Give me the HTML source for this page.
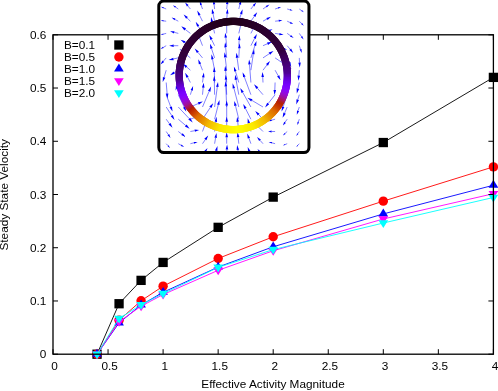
<!DOCTYPE html>
<html><head><meta charset="utf-8"><title>plot</title>
<style>html,body{margin:0;padding:0;background:#fff;width:498px;height:391px;overflow:hidden}</style></head>
<body>
<svg width="498" height="391" viewBox="0 0 498 391" style="display:block;position:absolute;left:0;top:0;will-change:transform">
<rect width="498" height="391" fill="#fff"/>
<polyline points="97.04,354.20 119.06,303.73 141.08,280.37 163.10,262.43 218.15,227.34 273.20,197.11 383.30,142.54 493.40,77.39" fill="none" stroke="#000000" stroke-width="0.9"/>
<rect x="92.39" y="349.55" width="9.3" height="9.3" fill="#000000"/>
<rect x="114.41" y="299.08" width="9.3" height="9.3" fill="#000000"/>
<rect x="136.43" y="275.72" width="9.3" height="9.3" fill="#000000"/>
<rect x="158.45" y="257.78" width="9.3" height="9.3" fill="#000000"/>
<rect x="213.50" y="222.69" width="9.3" height="9.3" fill="#000000"/>
<rect x="268.55" y="192.46" width="9.3" height="9.3" fill="#000000"/>
<rect x="378.65" y="137.89" width="9.3" height="9.3" fill="#000000"/>
<rect x="488.75" y="72.74" width="9.3" height="9.3" fill="#000000"/>
<polyline points="97.04,354.20 119.06,320.18 141.08,300.81 163.10,286.17 218.15,258.49 273.20,236.77 383.30,201.15 493.40,166.87" fill="none" stroke="#ff0000" stroke-width="0.9"/>
<circle cx="97.04" cy="354.20" r="4.7" fill="#ff0000"/>
<circle cx="119.06" cy="320.18" r="4.7" fill="#ff0000"/>
<circle cx="141.08" cy="300.81" r="4.7" fill="#ff0000"/>
<circle cx="163.10" cy="286.17" r="4.7" fill="#ff0000"/>
<circle cx="218.15" cy="258.49" r="4.7" fill="#ff0000"/>
<circle cx="273.20" cy="236.77" r="4.7" fill="#ff0000"/>
<circle cx="383.30" cy="201.15" r="4.7" fill="#ff0000"/>
<circle cx="493.40" cy="166.87" r="4.7" fill="#ff0000"/>
<polyline points="97.04,354.20 119.06,322.90 141.08,304.96 163.10,292.29 218.15,267.06 273.20,246.78 383.30,213.93 493.40,185.24" fill="none" stroke="#0000ff" stroke-width="0.9"/>
<polygon points="97.04,348.80 92.19,356.70 101.89,356.70" fill="#0000ff"/>
<polygon points="119.06,317.50 114.21,325.40 123.91,325.40" fill="#0000ff"/>
<polygon points="141.08,299.56 136.23,307.46 145.93,307.46" fill="#0000ff"/>
<polygon points="163.10,286.89 158.25,294.79 167.95,294.79" fill="#0000ff"/>
<polygon points="218.15,261.66 213.30,269.56 223.00,269.56" fill="#0000ff"/>
<polygon points="273.20,241.38 268.35,249.28 278.05,249.28" fill="#0000ff"/>
<polygon points="383.30,208.53 378.45,216.43 388.15,216.43" fill="#0000ff"/>
<polygon points="493.40,179.84 488.55,187.74 498.25,187.74" fill="#0000ff"/>
<polyline points="97.04,354.20 119.06,321.73 141.08,306.18 163.10,294.58 218.15,270.30 273.20,250.77 383.30,218.99 493.40,193.70" fill="none" stroke="#ff00ff" stroke-width="0.9"/>
<polygon points="97.04,359.20 92.19,351.40 101.89,351.40" fill="#ff00ff"/>
<polygon points="119.06,326.73 114.21,318.93 123.91,318.93" fill="#ff00ff"/>
<polygon points="141.08,311.18 136.23,303.38 145.93,303.38" fill="#ff00ff"/>
<polygon points="163.10,299.58 158.25,291.78 167.95,291.78" fill="#ff00ff"/>
<polygon points="218.15,275.30 213.30,267.50 223.00,267.50" fill="#ff00ff"/>
<polygon points="273.20,255.77 268.35,247.97 278.05,247.97" fill="#ff00ff"/>
<polygon points="383.30,223.99 378.45,216.19 388.15,216.19" fill="#ff00ff"/>
<polygon points="493.40,198.70 488.55,190.90 498.25,190.90" fill="#ff00ff"/>
<polyline points="97.04,354.20 119.06,318.59 141.08,304.75 163.10,293.67 218.15,267.38 273.20,249.60 383.30,223.03 493.40,197.48" fill="none" stroke="#00ffff" stroke-width="0.9"/>
<polygon points="97.04,359.20 92.19,351.40 101.89,351.40" fill="#00ffff"/>
<polygon points="119.06,323.59 114.21,315.79 123.91,315.79" fill="#00ffff"/>
<polygon points="141.08,309.75 136.23,301.95 145.93,301.95" fill="#00ffff"/>
<polygon points="163.10,298.67 158.25,290.87 167.95,290.87" fill="#00ffff"/>
<polygon points="218.15,272.38 213.30,264.58 223.00,264.58" fill="#00ffff"/>
<polygon points="273.20,254.60 268.35,246.80 278.05,246.80" fill="#00ffff"/>
<polygon points="383.30,228.03 378.45,220.23 388.15,220.23" fill="#00ffff"/>
<polygon points="493.40,202.48 488.55,194.68 498.25,194.68" fill="#00ffff"/>
<path d="M53.00,354.2V349.2M53.00,34.8V39.8M108.05,354.2V349.2M108.05,34.8V39.8M163.10,354.2V349.2M163.10,34.8V39.8M218.15,354.2V349.2M218.15,34.8V39.8M273.20,354.2V349.2M273.20,34.8V39.8M328.25,354.2V349.2M328.25,34.8V39.8M383.30,354.2V349.2M383.30,34.8V39.8M438.35,354.2V349.2M438.35,34.8V39.8M493.40,354.2V349.2M493.40,34.8V39.8M53.0,354.20H58.0M493.4,354.20H488.4M53.0,300.97H58.0M493.4,300.97H488.4M53.0,247.73H58.0M493.4,247.73H488.4M53.0,194.50H58.0M493.4,194.50H488.4M53.0,141.27H58.0M493.4,141.27H488.4M53.0,88.03H58.0M493.4,88.03H488.4M53.0,34.80H58.0M493.4,34.80H488.4" stroke="#000" stroke-width="1" fill="none"/>
<rect x="53.0" y="34.8" width="440.40" height="319.40" fill="none" stroke="#000" stroke-width="1.3"/>
<text transform="translate(54.60,369.60) scale(1.045,1)" text-anchor="middle" font-family="Liberation Sans, sans-serif" font-size="11.3" fill="#000">0</text>
<text transform="translate(109.65,369.60) scale(1.045,1)" text-anchor="middle" font-family="Liberation Sans, sans-serif" font-size="11.3" fill="#000">0.5</text>
<text transform="translate(164.70,369.60) scale(1.045,1)" text-anchor="middle" font-family="Liberation Sans, sans-serif" font-size="11.3" fill="#000">1</text>
<text transform="translate(219.75,369.60) scale(1.045,1)" text-anchor="middle" font-family="Liberation Sans, sans-serif" font-size="11.3" fill="#000">1.5</text>
<text transform="translate(274.80,369.60) scale(1.045,1)" text-anchor="middle" font-family="Liberation Sans, sans-serif" font-size="11.3" fill="#000">2</text>
<text transform="translate(329.85,369.60) scale(1.045,1)" text-anchor="middle" font-family="Liberation Sans, sans-serif" font-size="11.3" fill="#000">2.5</text>
<text transform="translate(384.90,369.60) scale(1.045,1)" text-anchor="middle" font-family="Liberation Sans, sans-serif" font-size="11.3" fill="#000">3</text>
<text transform="translate(439.95,369.60) scale(1.045,1)" text-anchor="middle" font-family="Liberation Sans, sans-serif" font-size="11.3" fill="#000">3.5</text>
<text transform="translate(495.00,369.60) scale(1.045,1)" text-anchor="middle" font-family="Liberation Sans, sans-serif" font-size="11.3" fill="#000">4</text>
<text transform="translate(46.30,358.20) scale(1.045,1)" text-anchor="end" font-family="Liberation Sans, sans-serif" font-size="11.3" fill="#000">0</text>
<text transform="translate(46.30,304.97) scale(1.045,1)" text-anchor="end" font-family="Liberation Sans, sans-serif" font-size="11.3" fill="#000">0.1</text>
<text transform="translate(46.30,251.73) scale(1.045,1)" text-anchor="end" font-family="Liberation Sans, sans-serif" font-size="11.3" fill="#000">0.2</text>
<text transform="translate(46.30,198.50) scale(1.045,1)" text-anchor="end" font-family="Liberation Sans, sans-serif" font-size="11.3" fill="#000">0.3</text>
<text transform="translate(46.30,145.27) scale(1.045,1)" text-anchor="end" font-family="Liberation Sans, sans-serif" font-size="11.3" fill="#000">0.4</text>
<text transform="translate(46.30,92.03) scale(1.045,1)" text-anchor="end" font-family="Liberation Sans, sans-serif" font-size="11.3" fill="#000">0.5</text>
<text transform="translate(46.30,38.80) scale(1.045,1)" text-anchor="end" font-family="Liberation Sans, sans-serif" font-size="11.3" fill="#000">0.6</text>
<text transform="translate(273.00,388.00) scale(1.045,1)" text-anchor="middle" font-family="Liberation Sans, sans-serif" font-size="11.3" fill="#000">Effective Activity Magnitude</text>
<text transform="translate(8.30,194.80) rotate(-90) scale(1.045,1)" text-anchor="middle" font-family="Liberation Sans, sans-serif" font-size="11.3" fill="#000">Steady State Velocity</text>
<text transform="translate(64.00,49.00) scale(1.045,1)" text-anchor="start" font-family="Liberation Sans, sans-serif" font-size="11.3" fill="#000">B=0.1</text>
<rect x="114.25" y="40.35" width="9.3" height="9.3" fill="#000000"/>
<text transform="translate(64.00,60.95) scale(1.045,1)" text-anchor="start" font-family="Liberation Sans, sans-serif" font-size="11.3" fill="#000">B=0.5</text>
<circle cx="118.90" cy="57.00" r="4.7" fill="#ff0000"/>
<text transform="translate(64.00,72.90) scale(1.045,1)" text-anchor="start" font-family="Liberation Sans, sans-serif" font-size="11.3" fill="#000">B=1.0</text>
<polygon points="118.90,63.60 114.05,71.50 123.75,71.50" fill="#0000ff"/>
<text transform="translate(64.00,84.85) scale(1.045,1)" text-anchor="start" font-family="Liberation Sans, sans-serif" font-size="11.3" fill="#000">B=1.5</text>
<polygon points="118.90,86.00 114.05,78.20 123.75,78.20" fill="#ff00ff"/>
<text transform="translate(64.00,96.80) scale(1.045,1)" text-anchor="start" font-family="Liberation Sans, sans-serif" font-size="11.3" fill="#000">B=2.0</text>
<polygon points="118.90,98.00 114.05,90.20 123.75,90.20" fill="#00ffff"/>
<defs><clipPath id="ic"><rect x="158.8" y="1.0" width="150.15" height="151.60" rx="5" ry="5"/></clipPath></defs>
<rect x="158.8" y="1.0" width="150.15" height="151.60" rx="5" ry="5" fill="#fff"/>
<g clip-path="url(#ic)"><path d="M166.2,9.0L163.6,7.9M178.3,9.0L175.6,7.1M190.4,9.0L187.7,5.8M202.5,9.0L201.1,5.0M214.6,9.0L214.1,4.5M226.7,9.0L227.2,4.2M238.8,9.0L239.9,4.5M250.9,9.0L253.5,5.7M263.0,9.0L266.2,6.7M275.1,9.0L278.1,8.0M287.2,9.0L289.9,9.7M299.3,9.0L301.5,10.6M166.2,21.2L163.5,20.9M178.3,21.2L174.9,19.4M190.4,21.2L187.0,17.9M202.5,21.2L199.4,15.0M214.6,21.2L213.0,13.6M226.7,21.2L227.2,13.7M238.8,21.2L241.1,14.0M250.9,21.2L254.3,16.3M263.0,21.2L267.0,18.9M275.1,21.2L278.8,20.8M287.2,21.2L290.2,22.6M299.3,21.2L301.5,23.4M166.2,33.4L163.3,34.1M178.3,33.4L174.2,32.3M190.4,33.4L185.2,29.4M202.5,33.4L198.2,26.1M214.6,33.4L212.1,22.0M226.7,33.4L226.7,22.4M238.8,33.4L241.4,22.3M250.9,33.4L254.7,25.9M263.0,33.4L267.9,31.3M275.1,33.4L279.3,34.1M287.2,33.4L290.4,35.7M299.3,33.4L301.4,36.4M166.2,45.7L163.3,47.4M178.3,45.7L173.7,45.7M190.4,45.7L184.9,42.3M202.5,45.7L199.3,37.4M214.6,45.7L211.5,39.4M226.7,45.7L225.8,37.7M238.8,45.7L239.2,40.2M250.9,45.7L254.6,38.4M263.0,45.7L267.5,43.7M275.1,45.7L282.4,48.1M287.2,45.7L290.2,49.3M299.3,45.7L300.5,49.3M166.2,57.9L163.3,61.2M178.3,57.9L173.4,58.9M190.4,57.9L183.4,52.2M202.5,57.9L197.9,52.3M214.6,57.9L211.5,48.5M226.7,57.9L225.6,47.2M238.8,57.9L239.3,48.2M250.9,57.9L254.9,45.7M263.0,57.9L269.3,53.7M275.1,57.9L287.4,66.2M287.2,57.9L289.2,62.4M299.3,57.9L299.5,62.7M166.2,70.2L164.1,77.3M178.3,70.2L174.2,72.7M190.4,70.2L186.6,66.9M202.5,70.2L200.0,63.9M214.6,70.2L212.5,59.2M226.7,70.2L225.2,57.3M238.8,70.2L237.1,57.8M250.9,70.2L253.3,54.1M263.0,70.2L267.0,64.9M275.1,70.2L278.2,75.8M287.2,70.2L287.7,75.2M299.3,70.2L298.8,75.7M166.2,82.5L167.1,93.5M178.3,82.5L176.9,86.5M190.4,82.5L187.5,77.0M202.5,82.5L203.2,77.4M214.6,82.5L214.3,71.9M226.7,82.5L225.6,70.8M238.8,82.5L235.4,71.2M250.9,82.5L249.5,64.4M263.0,82.5L262.7,76.9M275.1,82.5L274.8,90.0M287.2,82.5L286.1,88.5M299.3,82.5L297.9,88.6M166.2,94.7L170.7,106.8M178.3,94.7L184.2,107.2M190.4,94.7L191.7,90.3M202.5,94.7L203.2,87.7M214.6,94.7L214.3,80.7M226.7,94.7L225.9,79.7M238.8,94.7L236.0,79.6M250.9,94.7L244.3,76.9M263.0,94.7L257.3,88.1M275.1,94.7L268.2,103.5M287.2,94.7L283.2,106.8M299.3,94.7L297.8,99.6M166.2,107.0L171.8,115.6M178.3,107.0L189.3,118.7M190.4,107.0L198.3,103.5M202.5,107.0L209.2,91.2M214.6,107.0L217.3,86.9M226.7,107.0L225.8,86.3M238.8,107.0L233.9,88.2M250.9,107.0L242.7,92.3M263.0,107.0L251.8,100.3M275.1,107.0L272.1,111.0M287.2,107.0L284.6,113.1M299.3,107.0L298.0,110.8M166.2,119.2L169.5,123.8M178.3,119.2L185.8,125.6M190.4,119.2L195.8,117.1M202.5,119.2L210.4,107.4M214.6,119.2L218.3,104.7M226.7,119.2L226.7,105.4M238.8,119.2L235.5,105.8M250.9,119.2L245.4,108.4M263.0,119.2L258.6,114.5M275.1,119.2L271.6,120.2M287.2,119.2L285.0,122.3M299.3,119.2L298.3,122.1M166.2,131.5L168.3,134.7M178.3,131.5L181.9,134.2M190.4,131.5L194.7,130.7M202.5,131.5L205.2,124.1M214.6,131.5L215.9,121.7M226.7,131.5L226.7,121.8M238.8,131.5L237.7,121.7M250.9,131.5L248.9,123.1M263.0,131.5L258.5,127.0M275.1,131.5L271.6,131.5M287.2,131.5L285.0,133.5M299.3,131.5L297.8,133.7M166.2,143.7L168.1,145.8M178.3,143.7L181.2,145.3M190.4,143.7L194.0,142.8M202.5,143.7L205.4,139.5M214.6,143.7L215.6,137.8M226.7,143.7L226.7,137.2M238.8,143.7L238.1,137.2M250.9,143.7L248.9,138.1M263.0,143.7L260.0,140.3M275.1,143.7L271.8,142.8M287.2,143.7L285.0,144.6M299.3,143.7L297.8,145.3M202.5,156.0L205.0,152.0M214.6,156.0L216.1,150.8M226.7,156.0L226.9,149.4M238.8,156.0L237.9,149.9M250.9,156.0L249.3,151.5M263.0,156.0L260.2,152.5" stroke="#0000ff" stroke-width="0.5" fill="none"/><path d="M161.0,6.8L163.9,7.2L163.3,8.5ZM172.9,5.3L176.1,6.4L175.1,7.8ZM185.1,2.6L188.6,5.1L186.9,6.4ZM199.7,1.0L202.1,4.6L200.1,5.3ZM213.6,-0.0L215.3,4.3L212.9,4.6ZM227.6,-0.5L228.4,4.3L225.9,4.1ZM241.1,-0.0L241.1,4.7L238.8,4.2ZM256.2,2.5L254.4,6.4L252.7,5.0ZM269.5,4.5L266.8,7.5L265.7,5.9ZM281.1,7.0L278.4,8.7L277.8,7.2ZM292.7,10.5L289.8,10.4L290.1,9.0ZM303.8,12.2L301.1,11.1L302.0,10.0ZM160.8,20.5L163.6,20.1L163.4,21.6ZM171.6,17.5L175.4,18.5L174.5,20.2ZM183.6,14.5L187.9,17.0L186.1,18.7ZM197.2,10.5L200.6,14.4L198.3,15.6ZM212.0,8.7L214.3,13.3L211.7,13.9ZM227.6,8.7L228.5,13.8L225.9,13.6ZM242.6,9.2L242.3,14.4L239.9,13.6ZM257.2,12.2L255.4,17.0L253.3,15.6ZM271.0,16.7L267.6,20.0L266.4,17.9ZM282.4,20.3L278.9,21.7L278.6,19.8ZM293.2,24.0L289.8,23.4L290.6,21.8ZM303.8,25.7L301.0,24.0L302.1,22.9ZM160.5,34.7L163.2,33.4L163.5,34.8ZM170.1,31.2L174.5,31.3L173.9,33.4ZM181.3,26.2L186.0,28.3L184.4,30.4ZM195.7,21.7L199.3,25.4L197.1,26.7ZM211.0,17.1L213.3,21.8L210.8,22.3ZM226.7,17.4L228.0,22.4L225.4,22.4ZM242.6,17.4L242.7,22.6L240.2,22.0ZM256.9,21.4L255.8,26.5L253.5,25.3ZM272.5,29.2L268.5,32.5L267.4,30.1ZM283.6,34.7L279.2,35.2L279.5,33.0ZM293.7,37.9L289.9,36.5L291.0,34.9ZM303.6,39.4L300.7,37.0L302.2,35.9ZM160.5,49.1L162.9,46.7L163.8,48.1ZM169.1,45.7L173.7,44.5L173.7,46.9ZM180.6,39.7L185.5,41.2L184.2,43.4ZM197.5,32.7L200.5,36.9L198.1,37.8ZM209.3,34.9L212.7,38.8L210.3,40.0ZM225.2,32.7L227.1,37.5L224.5,37.8ZM239.5,35.2L240.5,40.3L237.9,40.1ZM256.9,33.9L255.8,38.9L253.5,37.8ZM272.0,41.7L268.0,44.9L267.0,42.5ZM287.1,49.7L281.9,49.4L282.8,46.9ZM293.2,52.9L289.3,50.1L291.1,48.5ZM301.8,52.9L299.6,49.6L301.5,49.0ZM160.5,64.4L162.5,60.5L164.2,61.9ZM168.6,59.9L173.2,57.7L173.7,60.2ZM179.6,48.9L184.3,51.2L182.6,53.1ZM194.7,48.4L198.9,51.5L196.9,53.1ZM210.0,43.8L212.8,48.1L210.3,48.9ZM225.1,42.2L226.9,47.1L224.3,47.4ZM239.6,43.2L240.6,48.3L238.0,48.2ZM256.5,40.9L256.2,46.1L253.7,45.3ZM273.5,50.9L270.1,54.8L268.6,52.6ZM291.6,68.9L286.7,67.3L288.2,65.1ZM291.2,66.9L288.0,63.0L290.4,61.9ZM299.8,67.4L298.3,62.8L300.8,62.6ZM162.7,82.1L162.9,76.9L165.4,77.7ZM170.1,75.2L173.5,71.6L174.8,73.8ZM182.8,63.6L187.4,65.9L185.7,67.9ZM198.2,59.2L201.2,63.4L198.8,64.3ZM211.5,54.3L213.7,59.0L211.2,59.5ZM224.6,52.3L226.5,57.1L223.9,57.4ZM236.4,52.8L238.4,57.6L235.8,57.9ZM254.1,49.2L254.6,54.3L252.1,53.9ZM270.0,60.9L268.0,65.7L266.0,64.1ZM280.6,80.2L277.1,76.4L279.3,75.2ZM288.2,80.2L286.4,75.4L289.0,75.1ZM298.3,80.7L297.5,75.6L300.1,75.8ZM167.5,98.5L165.8,93.6L168.4,93.4ZM175.6,90.5L175.9,86.1L178.0,86.8ZM185.1,72.7L188.6,76.4L186.3,77.7ZM203.9,72.5L204.5,77.6L201.9,77.2ZM214.2,67.0L215.6,71.9L213.0,72.0ZM225.1,65.8L226.9,70.7L224.3,71.0ZM233.9,66.5L236.6,70.9L234.1,71.6ZM249.1,59.5L250.8,64.3L248.2,64.5ZM262.5,72.0L264.0,76.9L261.4,77.0ZM274.6,95.0L273.5,89.9L276.1,90.0ZM285.2,93.5L284.8,88.3L287.4,88.8ZM296.8,93.5L296.6,88.3L299.2,88.9ZM172.5,111.5L169.5,107.3L172.0,106.4ZM186.3,111.7L183.0,107.7L185.3,106.6ZM193.1,85.9L192.9,90.7L190.6,89.9ZM203.7,82.7L204.5,87.8L201.9,87.5ZM214.2,75.7L215.6,80.7L213.0,80.7ZM225.7,74.7L227.2,79.6L224.7,79.8ZM235.1,74.7L237.3,79.4L234.7,79.9ZM242.6,72.2L245.6,76.4L243.1,77.3ZM254.0,84.3L258.3,87.2L256.3,88.9ZM265.1,107.4L267.2,102.7L269.2,104.3ZM281.6,111.5L281.9,106.3L284.4,107.2ZM296.3,104.4L296.5,99.2L299.0,100.0ZM174.5,119.9L170.7,116.3L172.9,114.9ZM192.7,122.4L188.3,119.6L190.2,117.8ZM202.9,101.5L198.8,104.7L197.8,102.3ZM211.1,86.6L210.4,91.7L208.0,90.7ZM218.0,82.0L218.6,87.1L216.0,86.7ZM225.6,81.3L227.1,86.3L224.5,86.4ZM232.6,83.3L235.1,87.9L232.6,88.5ZM240.2,88.0L243.8,91.7L241.5,92.9ZM247.5,97.8L252.5,99.2L251.1,101.4ZM269.1,115.0L271.1,110.2L273.1,111.7ZM282.6,117.8L283.4,112.6L285.8,113.7ZM296.8,114.8L297.0,110.5L299.1,111.2ZM172.5,127.8L168.5,124.5L170.6,123.0ZM189.6,128.8L184.9,126.6L186.6,124.6ZM200.4,115.2L196.2,118.3L195.3,115.8ZM213.2,103.2L211.5,108.1L209.3,106.6ZM219.5,99.9L219.5,105.1L217.0,104.4ZM226.7,100.4L228.0,105.4L225.4,105.4ZM234.3,100.9L236.8,105.4L234.2,106.1ZM243.2,103.9L246.6,107.8L244.3,109.0ZM255.2,110.9L259.6,113.7L257.7,115.4ZM268.1,121.2L271.3,119.3L271.9,121.1ZM282.9,125.5L284.2,121.8L285.9,122.9ZM297.3,125.0L297.5,121.8L299.1,122.4ZM170.5,137.9L167.5,135.2L169.2,134.1ZM185.6,136.9L181.2,135.1L182.7,133.2ZM199.1,129.9L195.0,131.8L194.5,129.5ZM207.0,119.5L206.5,124.6L204.0,123.7ZM216.5,116.8L217.1,121.9L214.6,121.5ZM226.7,116.8L228.0,121.8L225.4,121.8ZM237.1,116.8L239.0,121.6L236.4,121.9ZM247.7,118.3L250.1,122.8L247.6,123.4ZM255.0,123.5L259.5,126.1L257.6,127.9ZM268.1,131.5L271.6,130.5L271.6,132.4ZM282.9,135.6L284.5,132.9L285.6,134.1ZM296.3,136.0L297.2,133.3L298.4,134.1ZM170.0,147.9L167.6,146.3L168.6,145.3ZM184.1,146.9L180.8,146.1L181.6,144.5ZM197.6,141.9L194.2,143.7L193.8,141.9ZM208.2,135.4L206.4,140.3L204.3,138.8ZM216.5,132.9L216.9,138.0L214.4,137.6ZM226.7,132.2L228.0,137.2L225.4,137.2ZM237.6,132.2L239.4,137.0L236.8,137.3ZM247.2,133.4L250.1,137.7L247.7,138.5ZM257.0,136.9L260.9,139.5L259.1,141.1ZM268.6,141.9L272.1,142.0L271.6,143.6ZM282.9,145.4L284.8,144.0L285.3,145.1ZM296.3,146.9L297.4,144.9L298.2,145.7ZM207.5,148.0L206.0,152.6L204.0,151.3ZM217.5,146.0L217.4,151.1L214.9,150.4ZM227.1,144.5L228.2,149.5L225.6,149.4ZM237.1,145.0L239.1,149.7L236.6,150.1ZM247.7,147.0L250.5,151.0L248.1,151.9ZM257.5,149.0L261.2,151.7L259.3,153.2Z" fill="#0000ff"/></g>
<path d="M234.72,21.42A54.1,54.1 0 0 0 230.47,21.47" stroke="#1f0018" stroke-width="7.2" fill="none"/>
<path d="M233.30,21.40A54.1,54.1 0 0 0 229.06,21.57" stroke="#1f0018" stroke-width="7.2" fill="none"/>
<path d="M231.88,21.42A54.1,54.1 0 0 0 227.65,21.70" stroke="#1f0018" stroke-width="7.2" fill="none"/>
<path d="M230.47,21.47A54.1,54.1 0 0 0 226.24,21.86" stroke="#1f0018" stroke-width="7.2" fill="none"/>
<path d="M229.06,21.57A54.1,54.1 0 0 0 224.84,22.07" stroke="#200019" stroke-width="7.2" fill="none"/>
<path d="M227.65,21.70A54.1,54.1 0 0 0 223.44,22.31" stroke="#20001a" stroke-width="7.2" fill="none"/>
<path d="M226.24,21.86A54.1,54.1 0 0 0 222.05,22.58" stroke="#21001b" stroke-width="7.2" fill="none"/>
<path d="M224.84,22.07A54.1,54.1 0 0 0 220.67,22.89" stroke="#21001b" stroke-width="7.2" fill="none"/>
<path d="M223.44,22.31A54.1,54.1 0 0 0 219.30,23.24" stroke="#22001c" stroke-width="7.2" fill="none"/>
<path d="M222.05,22.58A54.1,54.1 0 0 0 217.93,23.63" stroke="#22001d" stroke-width="7.2" fill="none"/>
<path d="M220.67,22.89A54.1,54.1 0 0 0 216.58,24.05" stroke="#23001e" stroke-width="7.2" fill="none"/>
<path d="M219.30,23.24A54.1,54.1 0 0 0 215.24,24.50" stroke="#24001f" stroke-width="7.2" fill="none"/>
<path d="M217.93,23.63A54.1,54.1 0 0 0 213.91,24.99" stroke="#240020" stroke-width="7.2" fill="none"/>
<path d="M216.58,24.05A54.1,54.1 0 0 0 212.60,25.52" stroke="#250021" stroke-width="7.2" fill="none"/>
<path d="M215.24,24.50A54.1,54.1 0 0 0 211.30,26.08" stroke="#250022" stroke-width="7.2" fill="none"/>
<path d="M213.91,24.99A54.1,54.1 0 0 0 210.01,26.67" stroke="#250023" stroke-width="7.2" fill="none"/>
<path d="M212.60,25.52A54.1,54.1 0 0 0 208.74,27.30" stroke="#260023" stroke-width="7.2" fill="none"/>
<path d="M211.30,26.08A54.1,54.1 0 0 0 207.49,27.96" stroke="#260024" stroke-width="7.2" fill="none"/>
<path d="M210.01,26.67A54.1,54.1 0 0 0 206.25,28.65" stroke="#270025" stroke-width="7.2" fill="none"/>
<path d="M208.74,27.30A54.1,54.1 0 0 0 205.03,29.37" stroke="#270026" stroke-width="7.2" fill="none"/>
<path d="M207.49,27.96A54.1,54.1 0 0 0 203.84,30.13" stroke="#280027" stroke-width="7.2" fill="none"/>
<path d="M206.25,28.65A54.1,54.1 0 0 0 202.66,30.91" stroke="#280028" stroke-width="7.2" fill="none"/>
<path d="M205.03,29.37A54.1,54.1 0 0 0 201.50,31.73" stroke="#290029" stroke-width="7.2" fill="none"/>
<path d="M203.84,30.13A54.1,54.1 0 0 0 200.37,32.58" stroke="#29002a" stroke-width="7.2" fill="none"/>
<path d="M202.66,30.91A54.1,54.1 0 0 0 199.25,33.46" stroke="#2a002b" stroke-width="7.2" fill="none"/>
<path d="M201.50,31.73A54.1,54.1 0 0 0 198.16,34.36" stroke="#2a002b" stroke-width="7.2" fill="none"/>
<path d="M200.37,32.58A54.1,54.1 0 0 0 197.10,35.30" stroke="#2b002c" stroke-width="7.2" fill="none"/>
<path d="M199.25,33.46A54.1,54.1 0 0 0 196.06,36.26" stroke="#2b002d" stroke-width="7.2" fill="none"/>
<path d="M198.16,34.36A54.1,54.1 0 0 0 195.05,37.25" stroke="#2b002e" stroke-width="7.2" fill="none"/>
<path d="M197.10,35.30A54.1,54.1 0 0 0 194.06,38.26" stroke="#2c002f" stroke-width="7.2" fill="none"/>
<path d="M196.06,36.26A54.1,54.1 0 0 0 193.10,39.30" stroke="#2c0030" stroke-width="7.2" fill="none"/>
<path d="M195.05,37.25A54.1,54.1 0 0 0 192.16,40.36" stroke="#2d0031" stroke-width="7.2" fill="none"/>
<path d="M194.06,38.26A54.1,54.1 0 0 0 191.26,41.45" stroke="#2d0032" stroke-width="7.2" fill="none"/>
<path d="M193.10,39.30A54.1,54.1 0 0 0 190.38,42.57" stroke="#2d0032" stroke-width="7.2" fill="none"/>
<path d="M192.16,40.36A54.1,54.1 0 0 0 189.53,43.70" stroke="#2e0033" stroke-width="7.2" fill="none"/>
<path d="M191.26,41.45A54.1,54.1 0 0 0 188.71,44.86" stroke="#2e0034" stroke-width="7.2" fill="none"/>
<path d="M190.38,42.57A54.1,54.1 0 0 0 187.93,46.04" stroke="#2f0035" stroke-width="7.2" fill="none"/>
<path d="M189.53,43.70A54.1,54.1 0 0 0 187.17,47.23" stroke="#2f0036" stroke-width="7.2" fill="none"/>
<path d="M188.71,44.86A54.1,54.1 0 0 0 186.45,48.45" stroke="#2f0037" stroke-width="7.2" fill="none"/>
<path d="M187.93,46.04A54.1,54.1 0 0 0 185.76,49.69" stroke="#300038" stroke-width="7.2" fill="none"/>
<path d="M187.17,47.23A54.1,54.1 0 0 0 185.10,50.94" stroke="#300039" stroke-width="7.2" fill="none"/>
<path d="M186.45,48.45A54.1,54.1 0 0 0 184.47,52.21" stroke="#310039" stroke-width="7.2" fill="none"/>
<path d="M185.76,49.69A54.1,54.1 0 0 0 183.88,53.50" stroke="#31003a" stroke-width="7.2" fill="none"/>
<path d="M185.10,50.94A54.1,54.1 0 0 0 183.32,54.80" stroke="#31003b" stroke-width="7.2" fill="none"/>
<path d="M184.47,52.21A54.1,54.1 0 0 0 182.79,56.11" stroke="#32003c" stroke-width="7.2" fill="none"/>
<path d="M183.88,53.50A54.1,54.1 0 0 0 182.30,57.44" stroke="#32003d" stroke-width="7.2" fill="none"/>
<path d="M183.32,54.80A54.1,54.1 0 0 0 181.85,58.78" stroke="#32003e" stroke-width="7.2" fill="none"/>
<path d="M182.79,56.11A54.1,54.1 0 0 0 181.43,60.13" stroke="#33003f" stroke-width="7.2" fill="none"/>
<path d="M182.30,57.44A54.1,54.1 0 0 0 181.04,61.50" stroke="#330040" stroke-width="7.2" fill="none"/>
<path d="M181.85,58.78A54.1,54.1 0 0 0 180.69,62.87" stroke="#360046" stroke-width="7.2" fill="none"/>
<path d="M181.43,60.13A54.1,54.1 0 0 0 180.38,64.25" stroke="#38004c" stroke-width="7.2" fill="none"/>
<path d="M181.04,61.50A54.1,54.1 0 0 0 180.11,65.64" stroke="#3a0051" stroke-width="7.2" fill="none"/>
<path d="M180.69,62.87A54.1,54.1 0 0 0 179.87,67.04" stroke="#3c0057" stroke-width="7.2" fill="none"/>
<path d="M180.38,64.25A54.1,54.1 0 0 0 179.66,68.44" stroke="#3e005c" stroke-width="7.2" fill="none"/>
<path d="M180.11,65.64A54.1,54.1 0 0 0 179.50,69.85" stroke="#400062" stroke-width="7.2" fill="none"/>
<path d="M179.87,67.04A54.1,54.1 0 0 0 179.37,71.26" stroke="#420067" stroke-width="7.2" fill="none"/>
<path d="M179.66,68.44A54.1,54.1 0 0 0 179.27,72.67" stroke="#43006d" stroke-width="7.2" fill="none"/>
<path d="M179.50,69.85A54.1,54.1 0 0 0 179.22,74.08" stroke="#450072" stroke-width="7.2" fill="none"/>
<path d="M179.37,71.26A54.1,54.1 0 0 0 179.20,75.50" stroke="#470077" stroke-width="7.2" fill="none"/>
<path d="M179.27,72.67A54.1,54.1 0 0 0 179.22,76.92" stroke="#49007c" stroke-width="7.2" fill="none"/>
<path d="M179.22,74.08A54.1,54.1 0 0 0 179.27,78.33" stroke="#4a0081" stroke-width="7.2" fill="none"/>
<path d="M179.20,75.50A54.1,54.1 0 0 0 179.37,79.74" stroke="#4c0086" stroke-width="7.2" fill="none"/>
<path d="M179.22,76.92A54.1,54.1 0 0 0 179.50,81.15" stroke="#4d008b" stroke-width="7.2" fill="none"/>
<path d="M179.27,78.33A54.1,54.1 0 0 0 179.66,82.56" stroke="#4f0090" stroke-width="7.2" fill="none"/>
<path d="M179.37,79.74A54.1,54.1 0 0 0 179.87,83.96" stroke="#500095" stroke-width="7.2" fill="none"/>
<path d="M179.50,81.15A54.1,54.1 0 0 0 180.11,85.36" stroke="#5500a5" stroke-width="7.2" fill="none"/>
<path d="M179.66,82.56A54.1,54.1 0 0 0 180.38,86.75" stroke="#5b01b6" stroke-width="7.2" fill="none"/>
<path d="M179.87,83.96A54.1,54.1 0 0 0 180.69,88.13" stroke="#6001c6" stroke-width="7.2" fill="none"/>
<path d="M180.11,85.36A54.1,54.1 0 0 0 181.04,89.50" stroke="#6501d3" stroke-width="7.2" fill="none"/>
<path d="M180.38,86.75A54.1,54.1 0 0 0 181.43,90.87" stroke="#6901e0" stroke-width="7.2" fill="none"/>
<path d="M180.69,88.13A54.1,54.1 0 0 0 181.85,92.22" stroke="#6e02ea" stroke-width="7.2" fill="none"/>
<path d="M181.04,89.50A54.1,54.1 0 0 0 182.30,93.56" stroke="#7202f2" stroke-width="7.2" fill="none"/>
<path d="M181.43,90.87A54.1,54.1 0 0 0 182.79,94.89" stroke="#7602f8" stroke-width="7.2" fill="none"/>
<path d="M181.85,92.22A54.1,54.1 0 0 0 183.32,96.20" stroke="#7a03fd" stroke-width="7.2" fill="none"/>
<path d="M182.30,93.56A54.1,54.1 0 0 0 183.88,97.50" stroke="#7e04ff" stroke-width="7.2" fill="none"/>
<path d="M182.79,94.89A54.1,54.1 0 0 0 184.47,98.79" stroke="#8204fe" stroke-width="7.2" fill="none"/>
<path d="M183.32,96.20A54.1,54.1 0 0 0 185.10,100.06" stroke="#8706fa" stroke-width="7.2" fill="none"/>
<path d="M183.88,97.50A54.1,54.1 0 0 0 185.76,101.31" stroke="#8c07f2" stroke-width="7.2" fill="none"/>
<path d="M184.47,98.79A54.1,54.1 0 0 0 186.45,102.55" stroke="#9108e6" stroke-width="7.2" fill="none"/>
<path d="M185.10,100.06A54.1,54.1 0 0 0 187.17,103.77" stroke="#950ad6" stroke-width="7.2" fill="none"/>
<path d="M185.76,101.31A54.1,54.1 0 0 0 187.93,104.96" stroke="#9a0cc2" stroke-width="7.2" fill="none"/>
<path d="M186.45,102.55A54.1,54.1 0 0 0 188.71,106.14" stroke="#9e0eab" stroke-width="7.2" fill="none"/>
<path d="M187.17,103.77A54.1,54.1 0 0 0 189.53,107.30" stroke="#a21191" stroke-width="7.2" fill="none"/>
<path d="M187.93,104.96A54.1,54.1 0 0 0 190.38,108.43" stroke="#a71470" stroke-width="7.2" fill="none"/>
<path d="M188.71,106.14A54.1,54.1 0 0 0 191.26,109.55" stroke="#ab174c" stroke-width="7.2" fill="none"/>
<path d="M189.53,107.30A54.1,54.1 0 0 0 192.16,110.64" stroke="#b01b27" stroke-width="7.2" fill="none"/>
<path d="M190.38,108.43A54.1,54.1 0 0 0 193.10,111.70" stroke="#b42001" stroke-width="7.2" fill="none"/>
<path d="M191.26,109.55A54.1,54.1 0 0 0 194.06,112.74" stroke="#bb2700" stroke-width="7.2" fill="none"/>
<path d="M192.16,110.64A54.1,54.1 0 0 0 195.05,113.75" stroke="#c13000" stroke-width="7.2" fill="none"/>
<path d="M193.10,111.70A54.1,54.1 0 0 0 196.06,114.74" stroke="#c73900" stroke-width="7.2" fill="none"/>
<path d="M194.06,112.74A54.1,54.1 0 0 0 197.10,115.70" stroke="#cd4400" stroke-width="7.2" fill="none"/>
<path d="M195.05,113.75A54.1,54.1 0 0 0 198.16,116.64" stroke="#d25000" stroke-width="7.2" fill="none"/>
<path d="M196.06,114.74A54.1,54.1 0 0 0 199.25,117.54" stroke="#d85e00" stroke-width="7.2" fill="none"/>
<path d="M197.10,115.70A54.1,54.1 0 0 0 200.37,118.42" stroke="#dd6c00" stroke-width="7.2" fill="none"/>
<path d="M198.16,116.64A54.1,54.1 0 0 0 201.50,119.27" stroke="#df7300" stroke-width="7.2" fill="none"/>
<path d="M199.25,117.54A54.1,54.1 0 0 0 202.66,120.09" stroke="#e27a00" stroke-width="7.2" fill="none"/>
<path d="M200.37,118.42A54.1,54.1 0 0 0 203.84,120.87" stroke="#e48200" stroke-width="7.2" fill="none"/>
<path d="M201.50,119.27A54.1,54.1 0 0 0 205.03,121.63" stroke="#e68a00" stroke-width="7.2" fill="none"/>
<path d="M202.66,120.09A54.1,54.1 0 0 0 206.25,122.35" stroke="#e89200" stroke-width="7.2" fill="none"/>
<path d="M203.84,120.87A54.1,54.1 0 0 0 207.49,123.04" stroke="#ea9a00" stroke-width="7.2" fill="none"/>
<path d="M205.03,121.63A54.1,54.1 0 0 0 208.74,123.70" stroke="#eda300" stroke-width="7.2" fill="none"/>
<path d="M206.25,122.35A54.1,54.1 0 0 0 210.01,124.33" stroke="#efac00" stroke-width="7.2" fill="none"/>
<path d="M207.49,123.04A54.1,54.1 0 0 0 211.30,124.92" stroke="#f1b500" stroke-width="7.2" fill="none"/>
<path d="M208.74,123.70A54.1,54.1 0 0 0 212.60,125.48" stroke="#f2bc00" stroke-width="7.2" fill="none"/>
<path d="M210.01,124.33A54.1,54.1 0 0 0 213.91,126.01" stroke="#f4c200" stroke-width="7.2" fill="none"/>
<path d="M211.30,124.92A54.1,54.1 0 0 0 215.24,126.50" stroke="#f5c700" stroke-width="7.2" fill="none"/>
<path d="M212.60,125.48A54.1,54.1 0 0 0 216.58,126.95" stroke="#f6cc00" stroke-width="7.2" fill="none"/>
<path d="M213.91,126.01A54.1,54.1 0 0 0 217.93,127.37" stroke="#f7d100" stroke-width="7.2" fill="none"/>
<path d="M215.24,126.50A54.1,54.1 0 0 0 219.30,127.76" stroke="#f8d700" stroke-width="7.2" fill="none"/>
<path d="M216.58,126.95A54.1,54.1 0 0 0 220.67,128.11" stroke="#f9dc00" stroke-width="7.2" fill="none"/>
<path d="M217.93,127.37A54.1,54.1 0 0 0 222.05,128.42" stroke="#fae200" stroke-width="7.2" fill="none"/>
<path d="M219.30,127.76A54.1,54.1 0 0 0 223.44,128.69" stroke="#fbe800" stroke-width="7.2" fill="none"/>
<path d="M220.67,128.11A54.1,54.1 0 0 0 224.84,128.93" stroke="#fbea00" stroke-width="7.2" fill="none"/>
<path d="M222.05,128.42A54.1,54.1 0 0 0 226.24,129.14" stroke="#fcec00" stroke-width="7.2" fill="none"/>
<path d="M223.44,128.69A54.1,54.1 0 0 0 227.65,129.30" stroke="#fcee00" stroke-width="7.2" fill="none"/>
<path d="M224.84,128.93A54.1,54.1 0 0 0 229.06,129.43" stroke="#fcf000" stroke-width="7.2" fill="none"/>
<path d="M226.24,129.14A54.1,54.1 0 0 0 230.47,129.53" stroke="#fdf200" stroke-width="7.2" fill="none"/>
<path d="M227.65,129.30A54.1,54.1 0 0 0 231.88,129.58" stroke="#fdf300" stroke-width="7.2" fill="none"/>
<path d="M229.06,129.43A54.1,54.1 0 0 0 233.30,129.60" stroke="#fdf500" stroke-width="7.2" fill="none"/>
<path d="M230.47,129.53A54.1,54.1 0 0 0 234.72,129.58" stroke="#fef700" stroke-width="7.2" fill="none"/>
<path d="M231.88,129.58A54.1,54.1 0 0 0 236.13,129.53" stroke="#fef900" stroke-width="7.2" fill="none"/>
<path d="M233.30,129.60A54.1,54.1 0 0 0 237.54,129.43" stroke="#fefb00" stroke-width="7.2" fill="none"/>
<path d="M234.72,129.58A54.1,54.1 0 0 0 238.95,129.30" stroke="#fffd00" stroke-width="7.2" fill="none"/>
<path d="M236.13,129.53A54.1,54.1 0 0 0 240.36,129.14" stroke="#ffff00" stroke-width="7.2" fill="none"/>
<path d="M237.54,129.43A54.1,54.1 0 0 0 241.76,128.93" stroke="#fffd00" stroke-width="7.2" fill="none"/>
<path d="M238.95,129.30A54.1,54.1 0 0 0 243.16,128.69" stroke="#fefc00" stroke-width="7.2" fill="none"/>
<path d="M240.36,129.14A54.1,54.1 0 0 0 244.55,128.42" stroke="#fefa00" stroke-width="7.2" fill="none"/>
<path d="M241.76,128.93A54.1,54.1 0 0 0 245.93,128.11" stroke="#fef800" stroke-width="7.2" fill="none"/>
<path d="M243.16,128.69A54.1,54.1 0 0 0 247.30,127.76" stroke="#fdf600" stroke-width="7.2" fill="none"/>
<path d="M244.55,128.42A54.1,54.1 0 0 0 248.67,127.37" stroke="#fdf400" stroke-width="7.2" fill="none"/>
<path d="M245.93,128.11A54.1,54.1 0 0 0 250.02,126.95" stroke="#fdf200" stroke-width="7.2" fill="none"/>
<path d="M247.30,127.76A54.1,54.1 0 0 0 251.36,126.50" stroke="#fcf000" stroke-width="7.2" fill="none"/>
<path d="M248.67,127.37A54.1,54.1 0 0 0 252.69,126.01" stroke="#fcee00" stroke-width="7.2" fill="none"/>
<path d="M250.02,126.95A54.1,54.1 0 0 0 254.00,125.48" stroke="#fced00" stroke-width="7.2" fill="none"/>
<path d="M251.36,126.50A54.1,54.1 0 0 0 255.30,124.92" stroke="#fceb00" stroke-width="7.2" fill="none"/>
<path d="M252.69,126.01A54.1,54.1 0 0 0 256.59,124.33" stroke="#fbe900" stroke-width="7.2" fill="none"/>
<path d="M254.00,125.48A54.1,54.1 0 0 0 257.86,123.70" stroke="#fae400" stroke-width="7.2" fill="none"/>
<path d="M255.30,124.92A54.1,54.1 0 0 0 259.11,123.04" stroke="#f9de00" stroke-width="7.2" fill="none"/>
<path d="M256.59,124.33A54.1,54.1 0 0 0 260.35,122.35" stroke="#f8d900" stroke-width="7.2" fill="none"/>
<path d="M257.86,123.70A54.1,54.1 0 0 0 261.57,121.63" stroke="#f7d300" stroke-width="7.2" fill="none"/>
<path d="M259.11,123.04A54.1,54.1 0 0 0 262.76,120.87" stroke="#f6ce00" stroke-width="7.2" fill="none"/>
<path d="M260.35,122.35A54.1,54.1 0 0 0 263.94,120.09" stroke="#f5c800" stroke-width="7.2" fill="none"/>
<path d="M261.57,121.63A54.1,54.1 0 0 0 265.10,119.27" stroke="#f4c300" stroke-width="7.2" fill="none"/>
<path d="M262.76,120.87A54.1,54.1 0 0 0 266.23,118.42" stroke="#f3be00" stroke-width="7.2" fill="none"/>
<path d="M263.94,120.09A54.1,54.1 0 0 0 267.35,117.54" stroke="#f2b800" stroke-width="7.2" fill="none"/>
<path d="M265.10,119.27A54.1,54.1 0 0 0 268.44,116.64" stroke="#efaf00" stroke-width="7.2" fill="none"/>
<path d="M266.23,118.42A54.1,54.1 0 0 0 269.50,115.70" stroke="#eda600" stroke-width="7.2" fill="none"/>
<path d="M267.35,117.54A54.1,54.1 0 0 0 270.54,114.74" stroke="#eb9d00" stroke-width="7.2" fill="none"/>
<path d="M268.44,116.64A54.1,54.1 0 0 0 271.55,113.75" stroke="#e99400" stroke-width="7.2" fill="none"/>
<path d="M269.50,115.70A54.1,54.1 0 0 0 272.54,112.74" stroke="#e78c00" stroke-width="7.2" fill="none"/>
<path d="M270.54,114.74A54.1,54.1 0 0 0 273.50,111.70" stroke="#e58400" stroke-width="7.2" fill="none"/>
<path d="M271.55,113.75A54.1,54.1 0 0 0 274.44,110.64" stroke="#e27d00" stroke-width="7.2" fill="none"/>
<path d="M272.54,112.74A54.1,54.1 0 0 0 275.34,109.55" stroke="#e07600" stroke-width="7.2" fill="none"/>
<path d="M273.50,111.70A54.1,54.1 0 0 0 276.22,108.43" stroke="#de6f00" stroke-width="7.2" fill="none"/>
<path d="M274.44,110.64A54.1,54.1 0 0 0 277.07,107.30" stroke="#da6300" stroke-width="7.2" fill="none"/>
<path d="M275.34,109.55A54.1,54.1 0 0 0 277.89,106.14" stroke="#d45500" stroke-width="7.2" fill="none"/>
<path d="M276.22,108.43A54.1,54.1 0 0 0 278.67,104.96" stroke="#cf4800" stroke-width="7.2" fill="none"/>
<path d="M277.07,107.30A54.1,54.1 0 0 0 279.43,103.77" stroke="#c93d00" stroke-width="7.2" fill="none"/>
<path d="M277.89,106.14A54.1,54.1 0 0 0 280.15,102.55" stroke="#c33300" stroke-width="7.2" fill="none"/>
<path d="M278.67,104.96A54.1,54.1 0 0 0 280.84,101.31" stroke="#bd2a00" stroke-width="7.2" fill="none"/>
<path d="M279.43,103.77A54.1,54.1 0 0 0 281.50,100.06" stroke="#b62200" stroke-width="7.2" fill="none"/>
<path d="M280.15,102.55A54.1,54.1 0 0 0 282.13,98.79" stroke="#b11d1b" stroke-width="7.2" fill="none"/>
<path d="M280.84,101.31A54.1,54.1 0 0 0 282.72,97.50" stroke="#ad1940" stroke-width="7.2" fill="none"/>
<path d="M281.50,100.06A54.1,54.1 0 0 0 283.28,96.20" stroke="#a81564" stroke-width="7.2" fill="none"/>
<path d="M282.13,98.79A54.1,54.1 0 0 0 283.81,94.89" stroke="#a41286" stroke-width="7.2" fill="none"/>
<path d="M282.72,97.50A54.1,54.1 0 0 0 284.30,93.56" stroke="#9f0fa3" stroke-width="7.2" fill="none"/>
<path d="M283.28,96.20A54.1,54.1 0 0 0 284.75,92.22" stroke="#9b0dbb" stroke-width="7.2" fill="none"/>
<path d="M283.81,94.89A54.1,54.1 0 0 0 285.17,90.87" stroke="#970bcf" stroke-width="7.2" fill="none"/>
<path d="M284.30,93.56A54.1,54.1 0 0 0 285.56,89.50" stroke="#9209e1" stroke-width="7.2" fill="none"/>
<path d="M284.75,92.22A54.1,54.1 0 0 0 285.91,88.13" stroke="#8e07ee" stroke-width="7.2" fill="none"/>
<path d="M285.17,90.87A54.1,54.1 0 0 0 286.22,86.75" stroke="#8906f8" stroke-width="7.2" fill="none"/>
<path d="M285.56,89.50A54.1,54.1 0 0 0 286.49,85.36" stroke="#8405fe" stroke-width="7.2" fill="none"/>
<path d="M285.91,88.13A54.1,54.1 0 0 0 286.73,83.96" stroke="#7f04ff" stroke-width="7.2" fill="none"/>
<path d="M286.22,86.75A54.1,54.1 0 0 0 286.94,82.56" stroke="#7b03fe" stroke-width="7.2" fill="none"/>
<path d="M286.49,85.36A54.1,54.1 0 0 0 287.10,81.15" stroke="#7703fa" stroke-width="7.2" fill="none"/>
<path d="M286.73,83.96A54.1,54.1 0 0 0 287.23,79.74" stroke="#7302f4" stroke-width="7.2" fill="none"/>
<path d="M286.94,82.56A54.1,54.1 0 0 0 287.33,78.33" stroke="#6f02ed" stroke-width="7.2" fill="none"/>
<path d="M287.10,81.15A54.1,54.1 0 0 0 287.38,76.92" stroke="#6b01e3" stroke-width="7.2" fill="none"/>
<path d="M287.23,79.74A54.1,54.1 0 0 0 287.40,75.50" stroke="#6601d8" stroke-width="7.2" fill="none"/>
<path d="M287.33,78.33A54.1,54.1 0 0 0 287.38,74.08" stroke="#6101ca" stroke-width="7.2" fill="none"/>
<path d="M287.38,76.92A54.1,54.1 0 0 0 287.33,72.67" stroke="#5c01bb" stroke-width="7.2" fill="none"/>
<path d="M287.40,75.50A54.1,54.1 0 0 0 287.23,71.26" stroke="#5700ab" stroke-width="7.2" fill="none"/>
<path d="M287.38,74.08A54.1,54.1 0 0 0 287.10,69.85" stroke="#520099" stroke-width="7.2" fill="none"/>
<path d="M287.33,72.67A54.1,54.1 0 0 0 286.94,68.44" stroke="#4f0092" stroke-width="7.2" fill="none"/>
<path d="M287.23,71.26A54.1,54.1 0 0 0 286.73,67.04" stroke="#4e008d" stroke-width="7.2" fill="none"/>
<path d="M287.10,69.85A54.1,54.1 0 0 0 286.49,65.64" stroke="#4c0088" stroke-width="7.2" fill="none"/>
<path d="M286.94,68.44A54.1,54.1 0 0 0 286.22,64.25" stroke="#4b0083" stroke-width="7.2" fill="none"/>
<path d="M286.73,67.04A54.1,54.1 0 0 0 285.91,62.87" stroke="#49007e" stroke-width="7.2" fill="none"/>
<path d="M286.49,65.64A54.1,54.1 0 0 0 285.56,61.50" stroke="#470079" stroke-width="7.2" fill="none"/>
<path d="M286.22,64.25A54.1,54.1 0 0 0 285.17,60.13" stroke="#460074" stroke-width="7.2" fill="none"/>
<path d="M285.91,62.87A54.1,54.1 0 0 0 284.75,58.78" stroke="#44006e" stroke-width="7.2" fill="none"/>
<path d="M285.56,61.50A54.1,54.1 0 0 0 284.30,57.44" stroke="#420069" stroke-width="7.2" fill="none"/>
<path d="M285.17,60.13A54.1,54.1 0 0 0 283.81,56.11" stroke="#400064" stroke-width="7.2" fill="none"/>
<path d="M284.75,58.78A54.1,54.1 0 0 0 283.28,54.80" stroke="#3f005e" stroke-width="7.2" fill="none"/>
<path d="M284.30,57.44A54.1,54.1 0 0 0 282.72,53.50" stroke="#3d0059" stroke-width="7.2" fill="none"/>
<path d="M283.81,56.11A54.1,54.1 0 0 0 282.13,52.21" stroke="#3b0053" stroke-width="7.2" fill="none"/>
<path d="M283.28,54.80A54.1,54.1 0 0 0 281.50,50.94" stroke="#39004e" stroke-width="7.2" fill="none"/>
<path d="M282.72,53.50A54.1,54.1 0 0 0 280.84,49.69" stroke="#360048" stroke-width="7.2" fill="none"/>
<path d="M282.13,52.21A54.1,54.1 0 0 0 280.15,48.45" stroke="#340042" stroke-width="7.2" fill="none"/>
<path d="M281.50,50.94A54.1,54.1 0 0 0 279.43,47.23" stroke="#33003f" stroke-width="7.2" fill="none"/>
<path d="M280.84,49.69A54.1,54.1 0 0 0 278.67,46.04" stroke="#32003e" stroke-width="7.2" fill="none"/>
<path d="M280.15,48.45A54.1,54.1 0 0 0 277.89,44.86" stroke="#32003d" stroke-width="7.2" fill="none"/>
<path d="M279.43,47.23A54.1,54.1 0 0 0 277.07,43.70" stroke="#32003c" stroke-width="7.2" fill="none"/>
<path d="M278.67,46.04A54.1,54.1 0 0 0 276.22,42.57" stroke="#31003b" stroke-width="7.2" fill="none"/>
<path d="M277.89,44.86A54.1,54.1 0 0 0 275.34,41.45" stroke="#31003b" stroke-width="7.2" fill="none"/>
<path d="M277.07,43.70A54.1,54.1 0 0 0 274.44,40.36" stroke="#31003a" stroke-width="7.2" fill="none"/>
<path d="M276.22,42.57A54.1,54.1 0 0 0 273.50,39.30" stroke="#300039" stroke-width="7.2" fill="none"/>
<path d="M275.34,41.45A54.1,54.1 0 0 0 272.54,38.26" stroke="#300038" stroke-width="7.2" fill="none"/>
<path d="M274.44,40.36A54.1,54.1 0 0 0 271.55,37.25" stroke="#2f0037" stroke-width="7.2" fill="none"/>
<path d="M273.50,39.30A54.1,54.1 0 0 0 270.54,36.26" stroke="#2f0036" stroke-width="7.2" fill="none"/>
<path d="M272.54,38.26A54.1,54.1 0 0 0 269.50,35.30" stroke="#2f0035" stroke-width="7.2" fill="none"/>
<path d="M271.55,37.25A54.1,54.1 0 0 0 268.44,34.36" stroke="#2e0035" stroke-width="7.2" fill="none"/>
<path d="M270.54,36.26A54.1,54.1 0 0 0 267.35,33.46" stroke="#2e0034" stroke-width="7.2" fill="none"/>
<path d="M269.50,35.30A54.1,54.1 0 0 0 266.23,32.58" stroke="#2e0033" stroke-width="7.2" fill="none"/>
<path d="M268.44,34.36A54.1,54.1 0 0 0 265.10,31.73" stroke="#2d0032" stroke-width="7.2" fill="none"/>
<path d="M267.35,33.46A54.1,54.1 0 0 0 263.94,30.91" stroke="#2d0031" stroke-width="7.2" fill="none"/>
<path d="M266.23,32.58A54.1,54.1 0 0 0 262.76,30.13" stroke="#2c0030" stroke-width="7.2" fill="none"/>
<path d="M265.10,31.73A54.1,54.1 0 0 0 261.57,29.37" stroke="#2c002f" stroke-width="7.2" fill="none"/>
<path d="M263.94,30.91A54.1,54.1 0 0 0 260.35,28.65" stroke="#2b002e" stroke-width="7.2" fill="none"/>
<path d="M262.76,30.13A54.1,54.1 0 0 0 259.11,27.96" stroke="#2b002d" stroke-width="7.2" fill="none"/>
<path d="M261.57,29.37A54.1,54.1 0 0 0 257.86,27.30" stroke="#2b002d" stroke-width="7.2" fill="none"/>
<path d="M260.35,28.65A54.1,54.1 0 0 0 256.59,26.67" stroke="#2a002c" stroke-width="7.2" fill="none"/>
<path d="M259.11,27.96A54.1,54.1 0 0 0 255.30,26.08" stroke="#2a002b" stroke-width="7.2" fill="none"/>
<path d="M257.86,27.30A54.1,54.1 0 0 0 254.00,25.52" stroke="#29002a" stroke-width="7.2" fill="none"/>
<path d="M256.59,26.67A54.1,54.1 0 0 0 252.69,24.99" stroke="#290029" stroke-width="7.2" fill="none"/>
<path d="M255.30,26.08A54.1,54.1 0 0 0 251.36,24.50" stroke="#280028" stroke-width="7.2" fill="none"/>
<path d="M254.00,25.52A54.1,54.1 0 0 0 250.02,24.05" stroke="#280027" stroke-width="7.2" fill="none"/>
<path d="M252.69,24.99A54.1,54.1 0 0 0 248.67,23.63" stroke="#280026" stroke-width="7.2" fill="none"/>
<path d="M251.36,24.50A54.1,54.1 0 0 0 247.30,23.24" stroke="#270025" stroke-width="7.2" fill="none"/>
<path d="M250.02,24.05A54.1,54.1 0 0 0 245.93,22.89" stroke="#270025" stroke-width="7.2" fill="none"/>
<path d="M248.67,23.63A54.1,54.1 0 0 0 244.55,22.58" stroke="#260024" stroke-width="7.2" fill="none"/>
<path d="M247.30,23.24A54.1,54.1 0 0 0 243.16,22.31" stroke="#260023" stroke-width="7.2" fill="none"/>
<path d="M245.93,22.89A54.1,54.1 0 0 0 241.76,22.07" stroke="#250022" stroke-width="7.2" fill="none"/>
<path d="M244.55,22.58A54.1,54.1 0 0 0 240.36,21.86" stroke="#250021" stroke-width="7.2" fill="none"/>
<path d="M243.16,22.31A54.1,54.1 0 0 0 238.95,21.70" stroke="#240020" stroke-width="7.2" fill="none"/>
<path d="M241.76,22.07A54.1,54.1 0 0 0 237.54,21.57" stroke="#24001f" stroke-width="7.2" fill="none"/>
<path d="M240.36,21.86A54.1,54.1 0 0 0 236.13,21.47" stroke="#23001e" stroke-width="7.2" fill="none"/>
<path d="M238.95,21.70A54.1,54.1 0 0 0 234.72,21.42" stroke="#23001d" stroke-width="7.2" fill="none"/>
<path d="M237.54,21.57A54.1,54.1 0 0 0 233.30,21.40" stroke="#22001d" stroke-width="7.2" fill="none"/>
<path d="M236.13,21.47A54.1,54.1 0 0 0 231.88,21.42" stroke="#22001c" stroke-width="7.2" fill="none"/>
<rect x="158.8" y="1.0" width="150.15" height="151.60" rx="5" ry="5" fill="none" stroke="#000" stroke-width="3"/>
</svg>
</body></html>
